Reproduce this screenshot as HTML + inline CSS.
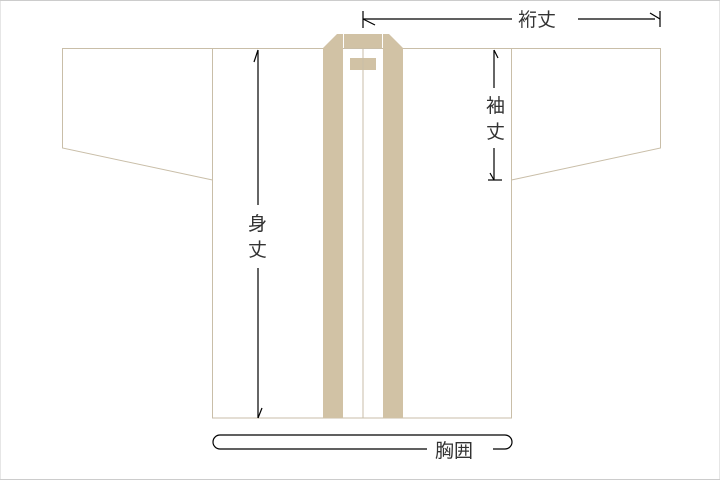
<!DOCTYPE html>
<html><head><meta charset="utf-8"><style>
html,body{margin:0;padding:0;background:#fff}
svg{display:block}
text{font-family:"Liberation Sans","Noto Sans CJK JP",sans-serif;font-size:19px;fill:#333}
</style></head><body>
<svg width="720" height="480" viewBox="0 0 720 480" xmlns="http://www.w3.org/2000/svg">
<rect x="0" y="0.5" width="720" height="479" fill="#fff" stroke="#ccc" stroke-width="1"/>
<g fill="#fff" stroke="#c9bea8" stroke-width="1">
<polygon points="62.5,48.5 212.5,48.5 212.5,180 62.5,148"/>
<polygon points="511.5,48.5 660.5,48.5 660.5,148 511.5,180"/>
<rect x="212.5" y="48.5" width="299" height="369.5"/>
</g>
<g fill="#d1c2a5">
<polygon points="323,48 337,34 343,34 343,418 323,418"/>
<polygon points="403,48 389,34 383,34 383,418 403,418"/>
<rect x="344" y="34" width="38" height="14"/>
<rect x="350" y="58" width="26" height="12"/>
</g>
<line x1="363" y1="48" x2="363" y2="418" stroke="#c9bea8"/>
<g stroke="#000" stroke-width="1.2" fill="none">
<line x1="363" y1="11" x2="363" y2="28"/>
<line x1="363" y1="19" x2="512" y2="19"/>
<line x1="363" y1="19" x2="375" y2="25"/>
<line x1="578" y1="19" x2="655" y2="19"/>
<line x1="660" y1="11" x2="660" y2="27"/>
<line x1="660" y1="19" x2="650" y2="13"/>
<line x1="258" y1="50" x2="258" y2="205"/>
<line x1="258" y1="50" x2="254" y2="62"/>
<line x1="258" y1="268" x2="258" y2="418"/>
<line x1="258" y1="418" x2="262" y2="408"/>
<line x1="494" y1="50" x2="494" y2="88"/>
<line x1="494" y1="50" x2="498" y2="58"/>
<line x1="494" y1="148" x2="494" y2="180"/>
<line x1="488" y1="180" x2="502" y2="180"/>
<line x1="494" y1="180" x2="490" y2="173"/>
<path d="M427,449 H220 A7,7 0 0 1 220,435 H505 A7,7 0 0 1 505,449 H493"/>
</g>
<text x="518" y="26">裄丈</text>
<text x="486" y="112">袖</text>
<text x="486" y="138">丈</text>
<text x="248" y="230">身</text>
<text x="248" y="256">丈</text>
<text x="435" y="457">胸囲</text>
</svg>
</body></html>
